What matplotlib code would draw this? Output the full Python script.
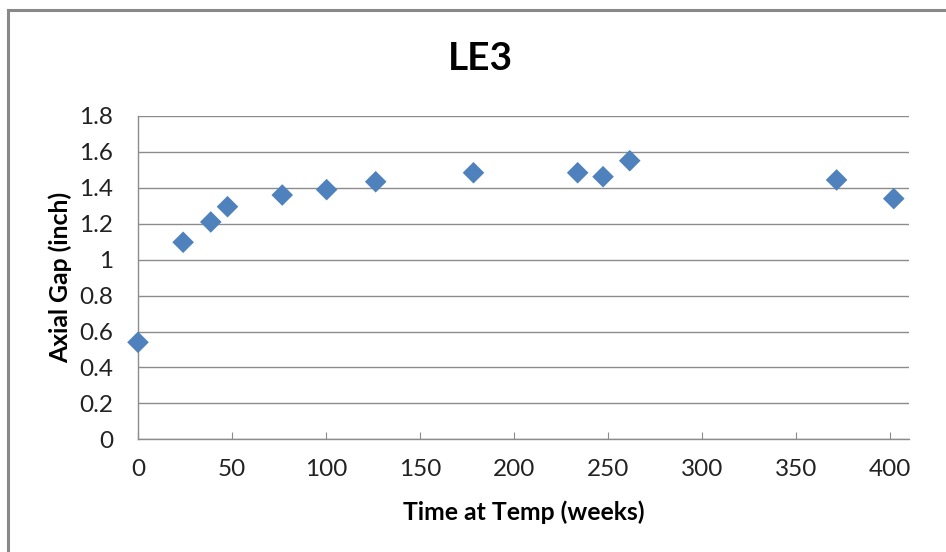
import matplotlib.pyplot as plt

# LE3 axial gap readings
weeks = [0, 24, 38.7, 47.6, 76.7, 100.3, 126.4, 178.4, 233.8, 247.3, 261.5, 371.5, 401.9]
gap = [0.54, 1.097, 1.21, 1.295, 1.36, 1.39, 1.434, 1.484, 1.484, 1.462, 1.551, 1.444, 1.34]

x_ticks = [0, 50, 100, 150, 200, 250, 300, 350, 400]
y_ticks = [0, 0.2, 0.4, 0.6, 0.8, 1.0, 1.2, 1.4, 1.6, 1.8]
y_labels = ['0', '0.2', '0.4', '0.6', '0.8', '1', '1.2', '1.4', '1.6', '1.8']

plt.rcParams['font.family'] = ['Lato', 'DejaVu Sans']

fig = plt.figure(figsize=(9.46, 5.52), dpi=100)
ax = fig.add_axes([138 / 946, 1 - 439.3 / 552, (909 - 138) / 946, (439.3 - 116) / 552])

# chart area frame (only top and left edges are visible in the picture)
fig.add_artist(plt.Line2D([7.5 / 946, 7.5 / 946], [0, 1 - 10 / 552], color='#888888', lw=2.2,
                          transform=fig.transFigure))
fig.add_artist(plt.Line2D([7.5 / 946, 1], [1 - 10 / 552, 1 - 10 / 552], color='#888888', lw=2.2,
                          transform=fig.transFigure))

ax.scatter(weeks, gap, marker='D', s=11 ** 2, color='#4F81BD', edgecolors='none', zorder=3,
           clip_on=False)

ax.set_xlim(0, 410)
ax.set_ylim(0, 1.8)
ax.set_xticks(x_ticks)
ax.set_yticks(y_ticks)
ax.set_yticklabels(y_labels)
ax.grid(axis='y', color='#8c8c8c', lw=1)
ax.set_axisbelow(True)

for s in ['top', 'right']:
    ax.spines[s].set_visible(False)
for s in ['left', 'bottom']:
    ax.spines[s].set_color('#8c8c8c')
    ax.spines[s].set_linewidth(1)

ax.tick_params(axis='x', direction='in', length=5, color='#8c8c8c', pad=14, labelsize=17.5, labelcolor='#222222')
ax.tick_params(axis='y', length=0, pad=18, labelsize=17.5, labelcolor='#222222')

ax.set_xlabel('Time at Temp (weeks)', fontsize=17.8, fontweight='bold', labelpad=15)
ax.set_ylabel('Axial Gap (inch)', fontsize=17.8, fontweight='bold', labelpad=5)
fig.text(480 / 946, 1 - 58 / 552, 'LE3', ha='center', va='center', fontsize=28, fontweight='bold')

fig.savefig('out.png', dpi=100)
